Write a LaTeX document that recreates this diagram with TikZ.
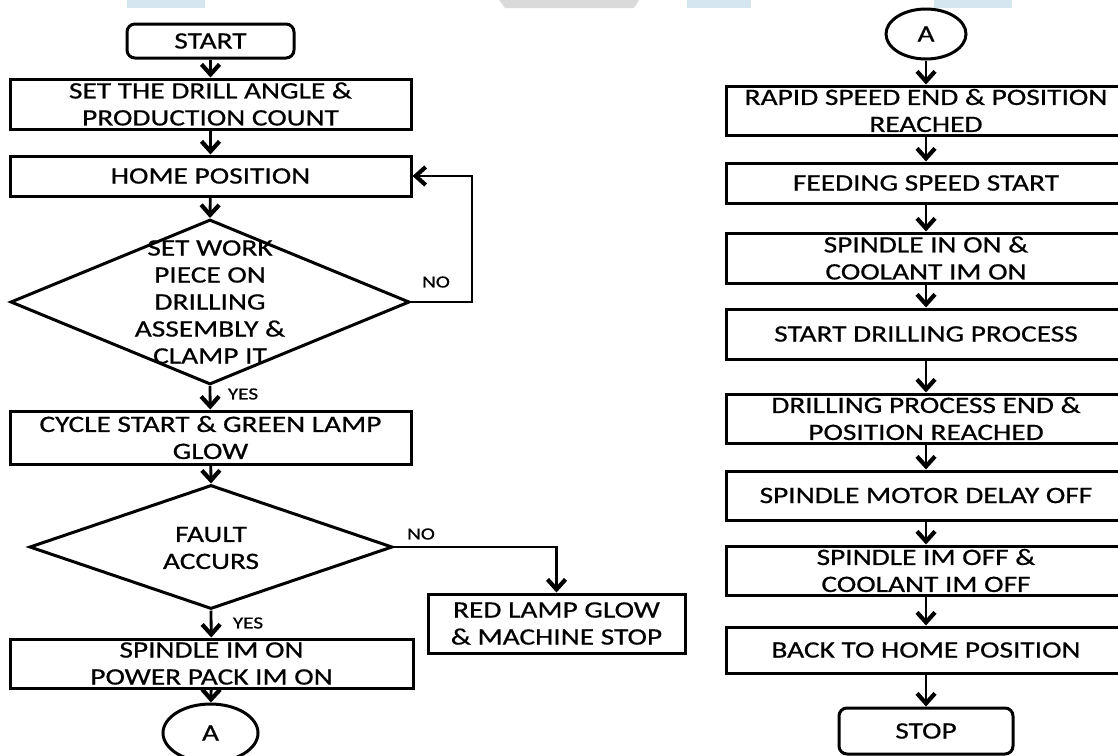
\documentclass[tikz,border=0pt]{standalone}
\usepackage{fontspec}
\setmainfont{Carlito}[FakeStretch=1.25,FakeBold=0.6]
\usetikzlibrary{shapes.geometric,arrows.meta}
\definecolor{decoblue}{HTML}{D5E6F0}
\definecolor{decogrey}{HTML}{DADADA}
\begin{document}
\begin{tikzpicture}[x=1pt,y=-1pt,
  txt/.style={font=\fontsize{23.5}{27}\selectfont, align=center},
  box/.style={txt, draw, line width=3pt, rectangle, minimum width=401pt, inner sep=0pt},
  rbox/.style={box, minimum width=400pt},
  term/.style={txt, draw, line width=3pt, rectangle, rounded corners=8pt, inner sep=0pt},
  dec/.style={draw, line width=3pt, diamond, inner sep=0pt},
  conn/.style={txt, draw, line width=3pt, ellipse, inner sep=0pt},
  lbl/.style={font=\fontsize{17}{20}\selectfont, inner sep=0pt},
  arr/.style={line width=2.8pt, -{Straight Barb[length=10pt,width=18pt,line width=4.2pt,line join=miter]}},
  line/.style={line width=2.8pt}
]
\clip (0,0) rectangle (1118,755);
\fill[white] (0,0) rectangle (1118,755);
% top decorations
\fill[decoblue] (127,0) rectangle (205,8);
\fill[decogrey] (499,0) -- (639,0) -- (634,8) -- (505,8) -- cycle;
\fill[decoblue] (687,0) rectangle (751,8);
\fill[decoblue] (934,0) rectangle (1012,8);

% left column
\node[term, minimum width=167pt, minimum height=34pt] (start) at (210.5,41) {START};
\node[box, minimum height=50pt] (set) at (210.5,104) {SET THE DRILL ANGLE \&\\PRODUCTION COUNT};
\node[box, minimum height=40pt] (home) at (210.5,176) {HOME POSITION};
\node[dec, minimum width=399pt, minimum height=165pt] (d1) at (210,302) {};
\node[txt] (d1t) at (210,302) {SET WORK\\PIECE ON\\DRILLING\\ASSEMBLY \&\\CLAMP IT};
\node[box, minimum height=53pt] (cyc) at (210.5,437.5) {CYCLE START \& GREEN LAMP\\GLOW};
\node[dec, minimum width=363pt, minimum height=124pt] (d2) at (211,547) {};
\node[txt] (d2t) at (211,548) {FAULT\\ACCURS};
\node[box, minimum width=257pt, minimum height=59pt] (red) at (556.5,623.5) {RED LAMP GLOW\\\& MACHINE STOP};
\node[box, minimum width=403pt, minimum height=49pt] (spin) at (211.5,663.5) {SPINDLE IM ON\\POWER PACK IM ON};
\node[conn, minimum width=95pt, minimum height=58pt] (a1) at (210.5,733) {A};

\node[lbl] (no1) at (436,282) {NO};
\node[lbl] (yes1) at (243,394) {YES};
\node[lbl] (no2) at (421,534) {NO};
\node[lbl] (yes2) at (248,623) {YES};

\coordinate (loopc) at (472,302);
\draw[arr] (start) -- (set);
\draw[arr] (set) -- (home);
\draw[arr] (home) -- (d1.north);
\draw[arr] (d1.east) -- (loopc) |- (home.east);
\draw[arr] (d1.south) -- (cyc);
\draw[arr] (cyc) -- (d2.north);
\draw[arr] (d2.east) -| (red.north);
\draw[arr] (d2.south) -- (spin);
\draw[arr] (spin) -- (a1);

% right column
\node[conn, minimum width=80pt, minimum height=50pt] (a2) at (926,34) {A};
\node[rbox, minimum height=49pt] (rapid) at (926,110.5) {RAPID SPEED END \& POSITION\\REACHED};
\node[rbox, minimum height=40pt] (feed) at (926,183) {FEEDING SPEED START};
\node[rbox, minimum height=50pt] (spon) at (926,258) {SPINDLE IN ON \&\\COOLANT IM ON};
\node[rbox, minimum height=50pt] (drill) at (926,334) {START DRILLING PROCESS};
\node[rbox, minimum height=49pt] (dend) at (926,418.5) {DRILLING PROCESS END \&\\POSITION REACHED};
\node[rbox, minimum height=49pt] (motor) at (926,495.5) {SPINDLE MOTOR DELAY OFF};
\node[rbox, minimum height=49pt] (imoff) at (926,570.5) {SPINDLE IM OFF \&\\COOLANT IM OFF};
\node[rbox, minimum height=46pt] (back) at (926,650) {BACK TO HOME POSITION};
\node[term, minimum width=174pt, minimum height=46pt] (stop) at (926,731) {STOP};

\draw[arr] (a2) -- (rapid);
\draw[arr] (rapid) -- (feed);
\draw[arr] (feed) -- (spon);
\draw[arr] (spon) -- (drill);
\draw[arr] (drill) -- (dend);
\draw[arr] (dend) -- (motor);
\draw[arr] (motor) -- (imoff);
\draw[arr] (imoff) -- (back);
\draw[arr] (back) -- (stop);
\end{tikzpicture}
\end{document}
